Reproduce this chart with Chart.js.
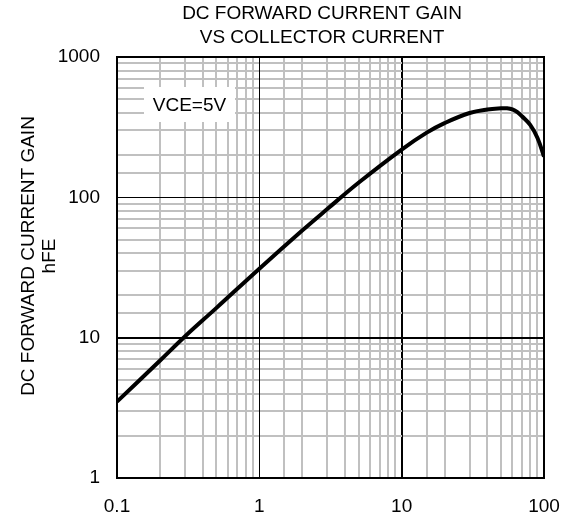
<!DOCTYPE html>
<html>
<head>
<meta charset="utf-8">
<script src="https://cdn.jsdelivr.net/npm/chart.js@4.4.1/dist/chart.umd.min.js"></script>
<style>
  html, body { margin: 0; padding: 0; background: #fff; }
  #wrap { width: 570px; height: 520px; }
</style>
</head>
<body>
<div id="wrap"><canvas id="chart" width="570" height="520"></canvas></div>
<script>
// values (log-log)
const collectorCurrent = [0.1, 0.2, 0.3, 0.5, 1, 2, 3, 5, 10, 15, 20, 30, 40, 50, 55, 60, 65, 70, 80, 90, 100];
const currentGain = [3.5, 6.85, 10.2, 16.3, 31, 58, 82.5, 127.5, 219, 289, 338, 399, 423, 431, 431, 423, 404, 378, 328, 265, 195];
const xTickLabels = [0.1, 1, 10, 100];
const yTickLabels = [1, 10, 100, 1000];
const titleLines = ['DC FORWARD CURRENT GAIN', 'VS COLLECTOR CURRENT'];
const yTitleLines = ['DC FORWARD CURRENT GAIN', 'hFE'];
const legendText = 'VCE=5V';

const FONT = '"Liberation Sans", Arial, sans-serif';

function isMajor(v) {
    const l = Math.log10(v);
    return Math.abs(l - Math.round(l)) < 1e-6;
}
function labelFor(list, v) {
    const hit = list.find(t => Math.abs(t - v) / t < 1e-6);
    return hit === undefined ? '' : String(hit);
}

const gridStyle = {
    drawTicks: false,
    color: (c) => (c.tick && isMajor(c.tick.value)) ? '#000' : '#c0c0c0',
    lineWidth: (c) => (c.tick && isMajor(c.tick.value)) ? 1 : 2,
};

// redraw decade lines on top of the grey ones, then the frame
const framePlugin = {
    id: 'frame',
    beforeDatasetsDraw(chart) {
        const ctx = chart.ctx;
        const a = chart.chartArea;
        ctx.save();
        ctx.strokeStyle = '#000';
        ctx.lineWidth = 1;
        ctx.beginPath();
        chart.scales.x.ticks.forEach(t => {
            if (!isMajor(t.value)) return;
            const p = Math.round(chart.scales.x.getPixelForValue(t.value)) + 0.5;
            ctx.moveTo(p, a.top); ctx.lineTo(p, a.bottom);
        });
        chart.scales.y.ticks.forEach(t => {
            if (!isMajor(t.value)) return;
            const p = Math.round(chart.scales.y.getPixelForValue(t.value)) + 0.5;
            ctx.moveTo(a.left, p); ctx.lineTo(a.right, p);
        });
        ctx.stroke();
        ctx.lineWidth = 2;
        ctx.strokeRect(a.left, a.top, a.right - a.left, a.bottom - a.top);
        ctx.restore();
    },
    afterDraw(chart) {
        const ctx = chart.ctx;
        const a = chart.chartArea;
        ctx.save();
        ctx.fillStyle = '#000';
        ctx.font = '19px ' + FONT;
        ctx.textAlign = 'center';
        ctx.textBaseline = 'middle';
        // title
        ctx.fillText(titleLines[0], 322, 14);
        ctx.fillText(titleLines[1], 322, 38);
        // y title, two rotated lines
        ctx.save();
        ctx.translate(29, 256);
        ctx.rotate(-Math.PI / 2);
        ctx.fillText(yTitleLines[0], 0, 0);
        ctx.fillText(yTitleLines[1], 0, 21);
        ctx.restore();
        // legend box
        const bx = a.left + 27, by = a.top + 30, bw = 91, bh = 35;
        ctx.fillStyle = '#fff';
        ctx.fillRect(bx, by, bw, bh);
        ctx.fillStyle = '#000';
        ctx.fillText(legendText, bx + bw / 2, by + bh / 2 + 1);
        ctx.restore();
    }
};

new Chart(document.getElementById('chart'), {
    type: 'line',
    data: {
        datasets: [{
            label: legendText,
            data: collectorCurrent.map((x, i) => ({ x: x, y: currentGain[i] })),
            borderColor: '#000',
            borderWidth: 4,
            pointRadius: 0,
            fill: false,
            tension: 0.4,
        }]
    },
    options: {
        responsive: false,
        animation: false,
        devicePixelRatio: 1,
        layout: { padding: { top: 57, right: 26, left: 0, bottom: 0 } },
        plugins: {
            legend: { display: false },
            title: { display: false },
            tooltip: { enabled: false },
        },
        scales: {
            x: {
                type: 'logarithmic',
                min: 0.1,
                max: 100,
                afterFit: (s) => { s.height = 42; s.paddingLeft = 0; s.paddingRight = 0; },
                border: { display: false },
                grid: gridStyle,
                ticks: {
                    autoSkip: false,
                    maxRotation: 0,
                    padding: 17,
                    color: '#000',
                    font: { family: FONT, size: 19 },
                    callback: (v) => labelFor(xTickLabels, v),
                },
            },
            y: {
                type: 'logarithmic',
                min: 1,
                max: 1000,
                afterFit: (s) => { s.width = 117; },
                border: { display: false },
                grid: gridStyle,
                ticks: {
                    autoSkip: false,
                    padding: 17,
                    color: '#000',
                    font: { family: FONT, size: 19 },
                    callback: (v) => labelFor(yTickLabels, v),
                },
            },
        },
    },
    plugins: [framePlugin],
});
</script>
</body>
</html>
